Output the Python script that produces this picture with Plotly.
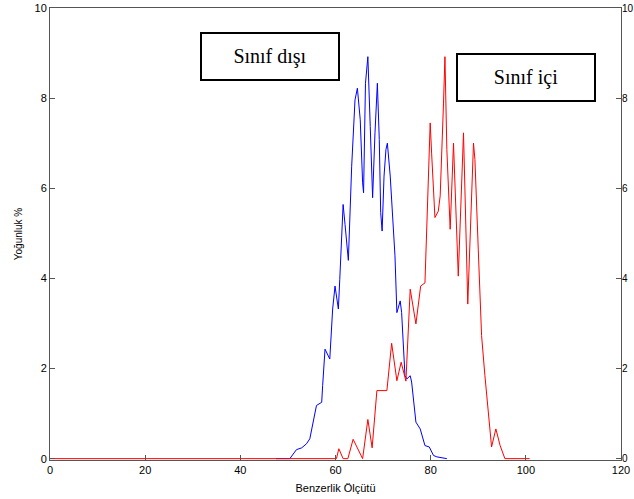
import plotly.graph_objects as go

# Sınıf dışı (mavi) eğrisi
disi_x = [47.5, 50.4, 51.8, 52.9, 53.9, 54.6, 56.0, 57.1, 57.3, 57.8, 58.8, 59.4, 59.9,
          60.6, 60.9, 61.3, 61.6, 62.0, 62.7, 63.4, 63.8, 64.1, 64.6, 65.2, 65.7, 65.9,
          66.3, 66.8, 67.3, 67.7, 67.8, 68.3, 68.8, 69.2, 69.5, 69.8, 70.2, 70.6, 70.9,
          71.5, 72.0, 72.5, 72.9, 73.6, 73.9, 74.6, 75.0, 75.7, 76.0, 76.9, 77.8, 78.8,
          79.7, 80.6, 81.3, 83.4]
disi_y = [0, 0, 0.2, 0.24, 0.33, 0.44, 1.18, 1.25, 1.62, 2.43, 2.21, 3.32, 3.83,
          3.32, 3.98, 5.09, 5.64, 5.2, 4.4, 6.49, 7.52, 7.96, 8.22, 7.52, 6.12, 5.9,
          8.33, 8.92, 7.37, 6.05, 5.79, 7.23, 8.33, 7.08, 5.46, 5.05, 6.27, 6.86, 7.0,
          6.27, 5.38, 4.5, 3.24, 3.5, 3.24, 1.84, 1.77, 1.84, 1.70, 0.81, 0.66, 0.29,
          0.26, 0.07, 0.04, 0]

# Sınıf içi (kırmızı) eğrisi
ici_x = [0, 60.2, 60.7, 61.6, 62.6, 63.7, 65.7, 66.8, 67.7, 68.7, 70.8, 71.8, 72.9,
         73.8, 74.8, 75.7, 76.9, 77.9, 78.8, 79.5, 79.9, 80.2, 80.9, 81.6, 82.0, 82.7,
         83.0, 83.4, 84.1, 84.8, 85.8, 86.9, 87.8, 89.0, 89.3, 90.0, 90.7, 91.4, 92.1,
         92.8, 93.7, 94.6, 95.6, 100.8]
ici_y = [0, 0, 0.22, 0, 0, 0.43, 0, 0.87, 0.24, 1.51, 1.51, 2.56, 1.73,
         2.14, 1.72, 3.76, 2.99, 3.83, 3.9, 6.34, 7.45, 6.78, 5.35, 5.49, 5.83, 7.89,
         8.92, 6.86, 5.09, 7.0, 4.05, 7.23, 3.43, 7.0, 6.64, 4.65, 2.73, 1.84, 0.96,
         0.26, 0.66, 0.29, 0, 0]

font = dict(family="Liberation Sans, Arial, sans-serif", size=11, color="black")
axis_col = "#555555"

fig = go.Figure()
fig.add_trace(go.Scatter(x=disi_x, y=disi_y, mode="lines",
                         line=dict(color="#0000ff", width=1), showlegend=False))
fig.add_trace(go.Scatter(x=ici_x, y=ici_y, mode="lines",
                         line=dict(color="#ff0000", width=1), showlegend=False))
# sağ eksen (aynı ölçek)
fig.add_trace(go.Scatter(x=[0], y=[0], mode="lines", yaxis="y2",
                         line=dict(color="rgba(0,0,0,0)"), showlegend=False,
                         hoverinfo="skip"))

fig.update_layout(
    width=634, height=499,
    margin=dict(l=50, r=13, t=8, b=39),
    paper_bgcolor="white", plot_bgcolor="white",
    font=font,
    xaxis=dict(range=[0, 120], dtick=20, ticks="inside", ticklen=5,
               tickcolor=axis_col, showline=True, linecolor=axis_col,
               mirror=True, showgrid=False, zeroline=False, automargin=False,
               title=dict(text="Benzerlik Ölçütü", standoff=9,
                          font=dict(size=11))),
    yaxis=dict(range=[-0.03, 10], dtick=2, ticks="inside", ticklen=5,
               tickcolor=axis_col, showline=True, linecolor=axis_col,
               showgrid=False, zeroline=False, automargin=False,
               title=dict(text="Yoğunluk %", standoff=10,
                          font=dict(size=10))),
    yaxis2=dict(range=[-0.03, 10], dtick=2, ticks="inside", ticklen=5,
                tickcolor=axis_col, showline=True, linecolor=axis_col,
                overlaying="y", side="right", showgrid=False, zeroline=False,
                automargin=False, tickfont=dict(size=10),
                ticklabelstandoff=-2),
)

box_font = dict(family="Liberation Serif, Times New Roman, serif", size=20,
                color="black")
fig.add_annotation(x=46.2, y=8.92, text="Sınıf dışı", showarrow=False,
                   font=box_font, bordercolor="black", borderwidth=2,
                   borderpad=0, width=136, height=45, bgcolor="white")
fig.add_annotation(x=100.0, y=8.45, text="Sınıf içi", showarrow=False,
                   font=box_font, bordercolor="black", borderwidth=2,
                   borderpad=0, width=136, height=45, bgcolor="white")

fig.write_html("out.html", config={"displayModeBar": False},
               post_script="document.body.style.margin='0';")
